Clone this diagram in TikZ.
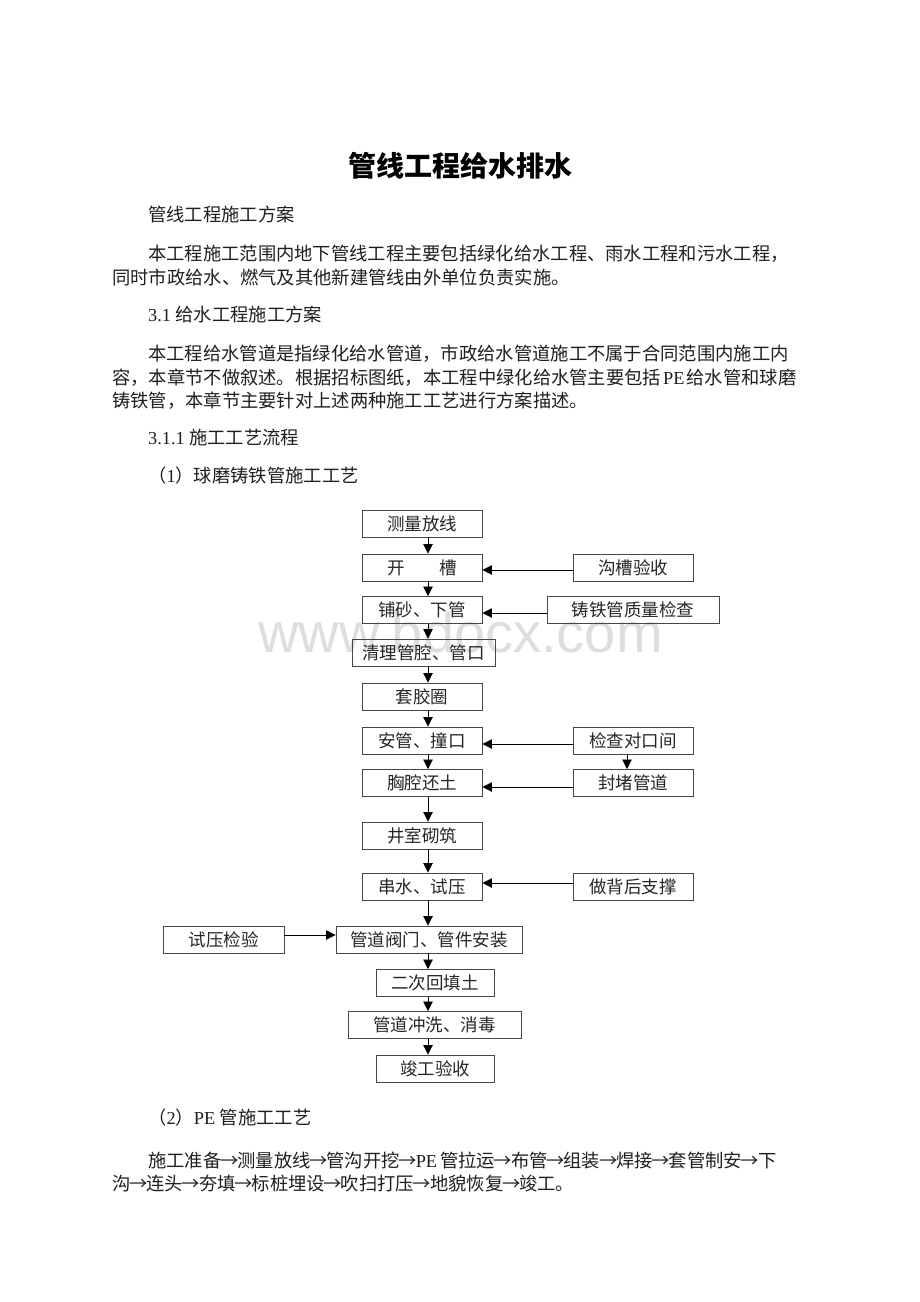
\documentclass[tikz,border=0pt]{standalone}
\usepackage{fontspec}
\setmainfont{Liberation Serif}
\newfontfamily\cjk{Noto Sans CJK SC}
\newfontfamily\wmfont{Liberation Sans}
\usetikzlibrary{arrows.meta}
\newcommand\myarr{\makebox[16pt]{\cjk →}}
\begin{document}
\begin{tikzpicture}[x=1pt,y=-1pt,
  box/.style={draw=black!72, line width=0.9pt, inner sep=0pt, minimum height=27pt,
    font=\cjk\fontsize{17.5}{17.5}\selectfont, text=black!85},
  arr/.style={-{Triangle[length=9.5pt,width=9.5pt]}, line width=0.8pt, draw=black},
  txt/.style={anchor=base west, inner sep=0pt, text=black!88,
    font=\fontsize{18.3}{18.3}\selectfont}]
\useasboundingbox (0,0) rectangle (920,1302);
\fill[white] (0,0) rectangle (920,1302);

% watermark
\node[anchor=base, inner sep=0pt, text=black!13,
  font=\wmfont\fontsize{56}{56}\selectfont] (wm) at (460.5,652) {www.bdocx.com};

% title and text
\node[anchor=base, inner sep=0pt, font=\cjk\bfseries\fontsize{28}{28}\selectfont] (title) at (460.5,176) {管线工程给水排水};
\node[txt] (t1) at (148,221) {\cjk 管线工程施工方案};
\node[txt] (p1a) at (148,260) {\cjk 本工程施工范围内地下管线工程主要包括绿化给水工程、雨水工程和污水工程，};
\node[txt] (p1b) at (112,284) {\cjk 同时市政给水、燃气及其他新建管线由外单位负责实施。};
\node[txt] (s31) at (148,321) {3.1 {\cjk 给水工程施工方案}};
\node[txt] (p2a) at (148,360) {\cjk 本工程给水管道是指绿化给水管道，市政给水管道施工不属于合同范围内施工内};
\node[txt] (p2b) at (112,384) {{\cjk 容，本章节不做叙述。根据招标图纸，本工程中绿化给水管主要包括}\hspace{2pt}PE\hspace{2pt}{\cjk 给水管和球磨}};
\node[txt] (p2c) at (112,407) {\cjk 铸铁管，本章节主要针对上述两种施工工艺进行方案描述。};
\node[txt] (s311) at (148,444) {3.1.1 {\cjk 施工工艺流程}};
\node[txt] (s1) at (148,482) {{\cjk （}1{\cjk ）球磨铸铁管施工工艺}};
\node[txt] (s2) at (148,1124) {{\cjk （}2{\cjk ）}PE {\cjk 管施工工艺}};
\node[txt] (pe1) at (148,1167) {{\cjk 施工准备}\myarr{\cjk 测量放线}\myarr{\cjk 管沟开挖}\myarr PE\hspace{3pt}{\cjk 管拉运}\myarr{\cjk 布管}\myarr{\cjk 组装}\myarr{\cjk 焊接}\myarr{\cjk 套管制安}\myarr{\cjk 下}};
\node[txt] (pe2) at (112,1190) {{\cjk 沟}\myarr{\cjk 连头}\myarr{\cjk 夯填}\myarr{\cjk 标桩埋设}\myarr{\cjk 吹扫打压}\myarr{\cjk 地貌恢复}\myarr{\cjk 竣工。}};

% main column
\node[box, minimum width=120pt] (m1) at (422,523.5) {测量放线};
\node[box, minimum width=120pt] (m2) at (422,567.5) {开\hspace{2em}槽};
\node[box, minimum width=120pt] (m3) at (422,610) {铺砂、下管};
\node[box, minimum width=143pt] (m4) at (423.5,652.5) {清理管腔、管口};
\node[box, minimum width=120pt] (m5) at (422,696.5) {套胶圈};
\node[box, minimum width=120pt] (m6) at (422,740.5) {安管、撞口};
\node[box, minimum width=120pt] (m7) at (422,783) {胸腔还土};
\node[box, minimum width=120pt] (m8) at (422,835.5) {井室砌筑};
\node[box, minimum width=120pt] (m9) at (422,886.5) {串水、试压};
\node[box, minimum width=186pt] (m10) at (429,939.5) {管道阀门、管件安装};
\node[box, minimum width=118pt] (m11) at (435,983) {二次回填土};
\node[box, minimum width=173pt] (m12) at (434.5,1025) {管道冲洗、消毒};
\node[box, minimum width=118pt] (m13) at (435,1068.5) {竣工验收};

% side boxes
\node[box, minimum width=120pt] (r1) at (633,567.5) {沟槽验收};
\node[box, minimum width=172pt] (r2) at (633,609.5) {铸铁管质量检查};
\node[box, minimum width=120pt] (r3) at (633,740.5) {检查对口间};
\node[box, minimum width=120pt] (r4) at (633,783) {封堵管道};
\node[box, minimum width=120pt] (r5) at (633,886.5) {做背后支撑};
\node[box, minimum width=121pt] (l1) at (223.5,939.5) {试压检验};

% vertical arrows
\coordinate (vx) at (428,0);
\foreach \a/\b in {m1/m2,m2/m3,m3/m4,m4/m5,m5/m6,m6/m7,m7/m8,m8/m9,m9/m10,m10/m11,m11/m12,m12/m13}
  \draw[arr] (\a.south -| vx) -- (\b.north -| vx);
\coordinate (vr) at (627,0);
\draw[arr] (r3.south -| vr) -- (r4.north -| vr);

% horizontal arrows
\coordinate (h1) at (0,570);
\coordinate (h2) at (0,613);
\coordinate (h3) at (0,744);
\coordinate (h4) at (0,787);
\coordinate (h5) at (0,883);
\coordinate (h6) at (0,935);
\draw[arr] (r1.west |- h1) -- (m2.east |- h1);
\draw[arr] (r2.west |- h2) -- (m3.east |- h2);
\draw[arr] (r3.west |- h3) -- (m6.east |- h3);
\draw[arr] (r4.west |- h4) -- (m7.east |- h4);
\draw[arr] (r5.west |- h5) -- (m9.east |- h5);
\draw[arr] (l1.east |- h6) -- (m10.west |- h6);
\end{tikzpicture}
\end{document}
